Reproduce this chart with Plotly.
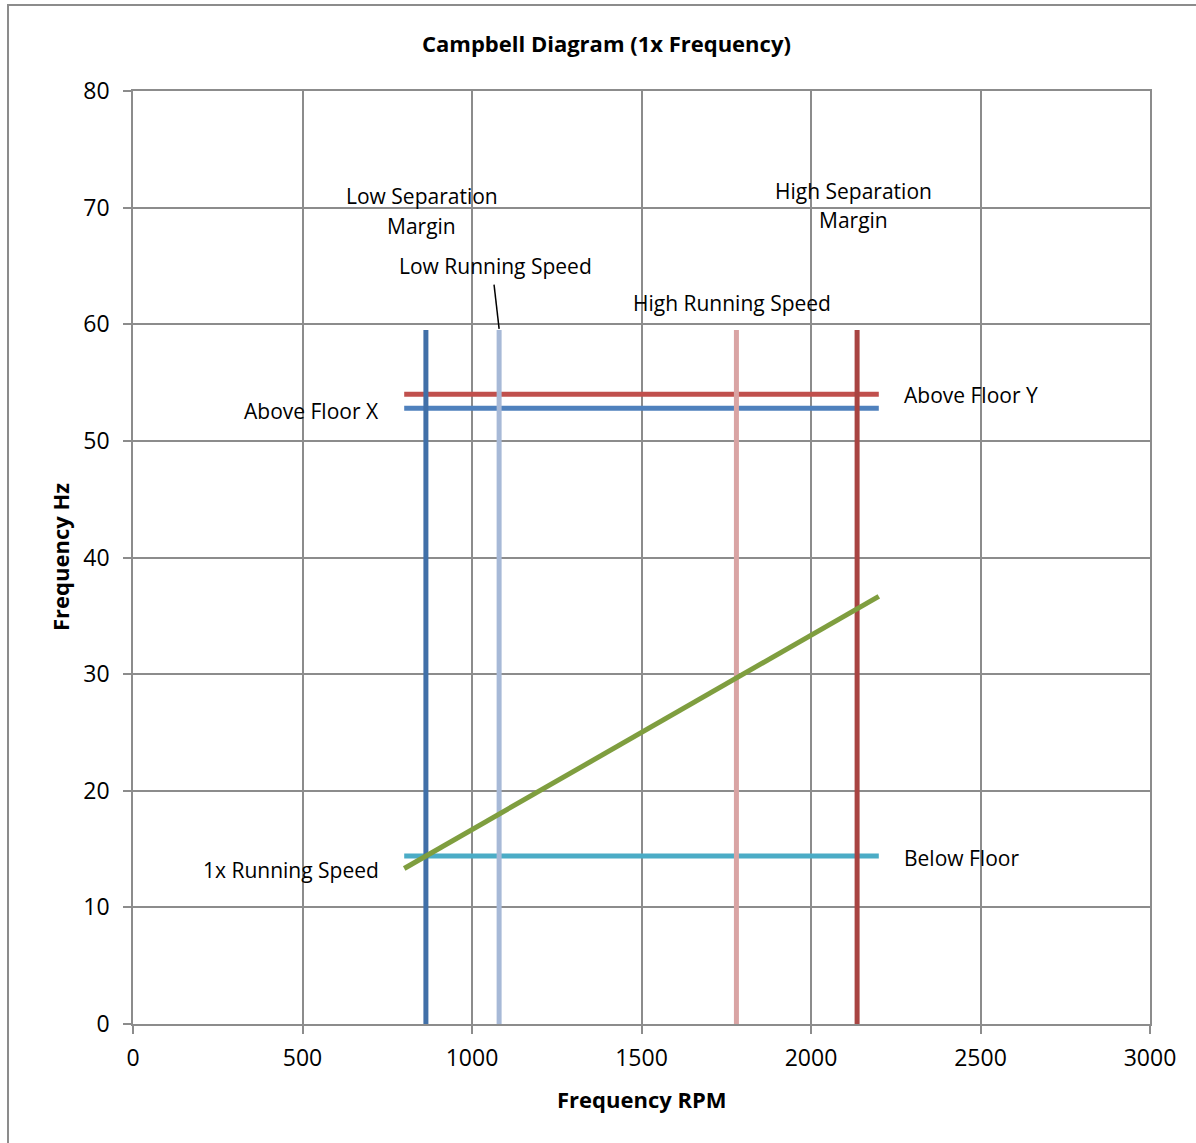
import plotly.graph_objects as go

# Operating speed span for the 1x excitation line (RPM)
rpm_span = [800, 2200]
one_x_hz = [r / 60 for r in rpm_span]

# Vertical speed markers (RPM) and their top height (Hz)
low_sep_margin_rpm = 864
low_running_rpm = 1080
high_running_rpm = 1780
high_sep_margin_rpm = 2136
marker_top_hz = 59.5

# Horizontal frequency floors (Hz)
above_floor_y_hz = 54.0
above_floor_x_hz = 52.8
below_floor_hz = 14.4

x_ticks = [0, 500, 1000, 1500, 2000, 2500, 3000]
y_ticks = [0, 10, 20, 30, 40, 50, 60, 70, 80]

FONT = "Open Sans"
GRID = "#8c8c8c"

fig = go.Figure()

def hline(y, color):
    fig.add_trace(go.Scatter(x=rpm_span, y=[y, y], mode="lines",
                             line=dict(color=color, width=5), hoverinfo="skip"))

def vline(x, color):
    fig.add_trace(go.Scatter(x=[x, x], y=[0, marker_top_hz], mode="lines",
                             line=dict(color=color, width=5), hoverinfo="skip"))

hline(above_floor_y_hz, "#c0504d")
hline(above_floor_x_hz, "#4f81bd")
hline(below_floor_hz, "#4bacc6")
vline(low_sep_margin_rpm, "#4170a8")
vline(low_running_rpm, "#a7b9d7")
vline(high_running_rpm, "#d9a4a4")
vline(high_sep_margin_rpm, "#a84442")
fig.add_trace(go.Scatter(x=rpm_span, y=one_x_hz, mode="lines",
                         line=dict(color="#7f9e3f", width=5), hoverinfo="skip"))

label_font = dict(family=FONT, size=21, color="black")
labels = [
    ("Low Separation", 852, 71.0, "center"),
    ("Margin", 852, 68.4, "center"),
    ("High Separation", 2124, 71.4, "center"),
    ("Margin", 2124, 68.9, "center"),
    ("Low Running Speed", 1068, 65.0, "center"),
    ("High Running Speed", 1767, 61.8, "center"),
    ("Above Floor Y", 2268, 53.9, "left"),
    ("Above Floor X", 732, 52.6, "right"),
    ("Below Floor", 2268, 14.2, "left"),
    ("1x Running Speed", 732, 13.2, "right"),
]
annotations = [dict(text=t, x=x, y=y, xref="x", yref="y", xanchor=a, yanchor="middle",
                    showarrow=False, font=label_font, align="center")
               for t, x, y, a in labels]

annotations += [
    dict(text="<b>Campbell Diagram (1x Frequency)</b>", x=0.466, y=1.0514,
         xref="paper", yref="paper", xanchor="center", yanchor="middle", showarrow=False,
         font=dict(family=FONT, size=22, color="black")),
    dict(text="<b>Frequency RPM</b>", x=0.5, y=-0.0804, xref="paper", yref="paper",
         xanchor="center", yanchor="middle", showarrow=False,
         font=dict(family=FONT, size=22, color="black")),
    dict(text="<b>Frequency Hz</b>", x=-0.0718, y=0.5005, xref="paper", yref="paper",
         xanchor="center", yanchor="middle", showarrow=False, textangle=-90,
         font=dict(family=FONT, size=22, color="black")),
]

shapes = [
    # leader line for the low running speed label
    dict(type="line", xref="x", yref="y", x0=1065, y0=63.4, x1=1080, y1=59.6,
         line=dict(color="black", width=1.5)),
    # chart area frame
    dict(type="rect", xref="paper", yref="paper", x0=-0.1229, y0=-0.3, x1=1.2, y1=1.0922,
         line=dict(color="#8c8c8c", width=2), layer="below"),
]

axis_common = dict(showgrid=True, gridcolor=GRID, gridwidth=1.5, showline=True,
                   linecolor=GRID, linewidth=1.5, mirror=True, zeroline=False,
                   ticks="outside", ticklen=8, tickcolor=GRID, tickwidth=1.5,
                   tickfont=dict(family=FONT, size=23, color="black"))

fig.update_layout(
    width=1196, height=1143,
    margin=dict(l=133, r=46, t=91, b=119),
    paper_bgcolor="white", plot_bgcolor="white",
    showlegend=False,
    xaxis=dict(range=[0, 3000], tickvals=x_ticks, ticklabelstandoff=5, **axis_common),
    yaxis=dict(range=[0, 80], tickvals=y_ticks, ticklabelstandoff=9, **axis_common),
    annotations=annotations,
    shapes=shapes,
)

fig.write_html("out.html")
